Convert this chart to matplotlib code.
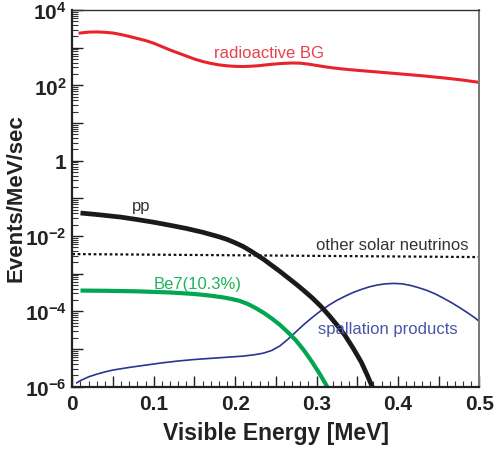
import numpy as np
import matplotlib
matplotlib.use("Agg")
import matplotlib.pyplot as plt
from matplotlib.ticker import FixedLocator, MultipleLocator, LogLocator, NullFormatter

plt.rcParams['font.family'] = ['Liberation Sans', 'DejaVu Sans']
plt.rcParams['mathtext.fontset'] = 'custom'
plt.rcParams['mathtext.rm'] = 'Liberation Sans'
plt.rcParams['mathtext.bf'] = 'Liberation Sans:bold'

# Spectra: visible energy [MeV] and log10(events/MeV/sec)
radio_e = [0.0095, 0.02, 0.03, 0.04, 0.05, 0.06, 0.07, 0.08, 0.09, 0.10, 0.11, 0.12,
           0.13, 0.14, 0.15, 0.16, 0.17, 0.18, 0.19, 0.20, 0.21, 0.22, 0.23, 0.24,
           0.25, 0.26, 0.27, 0.28, 0.29, 0.30, 0.31, 0.32, 0.33, 0.35, 0.37, 0.40,
           0.43, 0.46, 0.48, 0.50]
radio_log = [3.39, 3.415, 3.42, 3.41, 3.39, 3.35, 3.30, 3.245, 3.19, 3.12, 3.03, 2.94,
             2.86, 2.78, 2.70, 2.635, 2.585, 2.545, 2.52, 2.505, 2.50, 2.51, 2.525, 2.55,
             2.57, 2.585, 2.595, 2.59, 2.565, 2.53, 2.495, 2.465, 2.44, 2.40, 2.365, 2.31,
             2.255, 2.19, 2.14, 2.08]

pp_e = [0.01, 0.03, 0.06, 0.08, 0.10, 0.12, 0.14, 0.16, 0.18, 0.19, 0.20, 0.21, 0.22,
        0.2265, 0.235, 0.245, 0.255, 0.265, 0.275, 0.285, 0.295, 0.305, 0.315, 0.325,
        0.335, 0.345, 0.355, 0.362, 0.368, 0.370]
pp_log = [-1.39, -1.43, -1.50, -1.565, -1.635, -1.715, -1.80, -1.90, -2.02, -2.09, -2.18,
          -2.28, -2.41, -2.50, -2.62, -2.78, -2.94, -3.11, -3.28, -3.46, -3.65, -3.86,
          -4.10, -4.36, -4.64, -4.98, -5.35, -5.68, -5.98, -6.08]

be7_e = [0.01, 0.04, 0.08, 0.12, 0.15, 0.17, 0.185, 0.195, 0.205, 0.215, 0.225, 0.235,
         0.245, 0.255, 0.265, 0.275, 0.285, 0.295, 0.305, 0.3125, 0.3145]
be7_log = [-3.45, -3.455, -3.47, -3.50, -3.54, -3.585, -3.63, -3.67, -3.72, -3.80, -3.91,
           -4.04, -4.19, -4.36, -4.56, -4.78, -5.05, -5.36, -5.70, -5.98, -6.07]

spall_e = [0.0054, 0.01, 0.015, 0.02, 0.03, 0.04, 0.05, 0.07, 0.09, 0.11, 0.13, 0.15,
           0.17, 0.19, 0.21, 0.225, 0.235, 0.245, 0.255, 0.265, 0.275, 0.285, 0.295,
           0.305, 0.315, 0.325, 0.335, 0.345, 0.355, 0.365, 0.375, 0.385, 0.395, 0.405,
           0.415, 0.425, 0.435, 0.445, 0.455, 0.465, 0.475, 0.485, 0.495, 0.5]
spall_log = [-5.90, -5.84, -5.79, -5.74, -5.67, -5.61, -5.56, -5.49, -5.43, -5.37, -5.32,
             -5.28, -5.25, -5.22, -5.19, -5.15, -5.11, -5.04, -4.92, -4.74, -4.54, -4.34,
             -4.16, -3.99, -3.84, -3.71, -3.60, -3.50, -3.42, -3.35, -3.30, -3.27, -3.26,
             -3.27, -3.31, -3.37, -3.44, -3.53, -3.64, -3.76, -3.89, -4.03, -4.18, -4.27]

solar_e = [0.0, 0.5]
solar_log = [-2.48, -2.56]

y_tick_exps = [4, 2, 0, -2, -4, -6]
x_tick_vals = [0, 0.1, 0.2, 0.3, 0.4, 0.5]
x_tick_labels = ['0', '0.1', '0.2', '0.3', '0.4', '0.5']


def rate(v):
    return np.power(10.0, np.asarray(v))


fig = plt.figure(figsize=(4.99, 4.56), dpi=100)
ax = fig.add_axes([0.145, 0.150, 0.8155, 0.8257])

ax.plot(radio_e, rate(radio_log), color='#e8232b', lw=2.2)
ax.plot(solar_e, rate(solar_log), color='#111111', lw=1.6, linestyle=(0, (1.2, 1.2)))
ax.plot(spall_e, rate(spall_log), color='#2a3590', lw=1.2)
ax.plot(be7_e, rate(be7_log), color='#00a651', lw=3.0, solid_capstyle='butt')
ax.plot(pp_e, rate(pp_log), color='#1a1a1a', lw=3.4, solid_capstyle='butt')

ax.set_yscale('log')
ax.set_xlim(0, 0.5)
ax.set_ylim(1e-6, 1e4)

lab_kw = dict(fontsize=12, va='center', ha='left')
ax.text(0.174, 10**2.88, 'radioactive BG', color='#e8404a', **lab_kw)
ax.text(0.073, 10**-1.18, 'pp', color='#333333', **lab_kw)
ax.text(0.299, 10**-2.23, 'other solar neutrinos', color='#333333', **lab_kw)
ax.text(0.0995, 10**-3.25, 'Be7(10.3%)', color='#1db35a', **lab_kw)
ax.text(0.302, 10**-4.47, 'spallation products', color='#4a54a8', **lab_kw)

# y ticks: major every decade, labels every two decades
ax.yaxis.set_major_locator(FixedLocator([10.0**k for k in range(-6, 5)]))
ax.yaxis.set_minor_locator(LogLocator(base=10, subs=np.arange(2, 10), numticks=20))
ax.yaxis.set_minor_formatter(NullFormatter())
ylabels = []
for k in range(-6, 5):
    if k in y_tick_exps:
        ylabels.append('1' if k == 0 else r'$\mathbf{10^{%d}}$' % k)
    else:
        ylabels.append('')
ax.set_yticklabels(ylabels)

ax.xaxis.set_major_locator(FixedLocator([i * 0.05 for i in range(11)]))
ax.xaxis.set_minor_locator(MultipleLocator(0.01))
xlabels = []
for i in range(11):
    v = round(i * 0.05, 2)
    xlabels.append(x_tick_labels[x_tick_vals.index(v)] if v in x_tick_vals else '')
ax.set_xticklabels(xlabels)

ax.tick_params(axis='both', which='major', direction='in', length=8, width=1.0,
               color='#222222', labelsize=15, labelcolor='#222222', top=False, right=False)
ax.tick_params(axis='both', which='minor', direction='in', length=4.5, width=0.8,
               color='#333333', top=False, right=False)
ax.tick_params(axis='x', which='major', pad=5)
ax.tick_params(axis='y', which='major', pad=4)
for lab in ax.get_xticklabels() + ax.get_yticklabels():
    lab.set_fontweight('bold')

ax.spines['left'].set_linewidth(1.6)
ax.spines['bottom'].set_linewidth(1.6)
ax.spines['left'].set_color('#222222')
ax.spines['bottom'].set_color('#222222')
ax.spines['top'].set_linewidth(1.0)
ax.spines['top'].set_color('#333333')
ax.spines['right'].set_linewidth(1.4)
ax.spines['right'].set_color('#777777')

ax.set_xlabel('Visible Energy [MeV]', fontsize=16.5, fontweight='bold', color='#222222', labelpad=6)
ax.set_ylabel('Events/MeV/sec', fontsize=16, fontweight='bold', color='#222222')
ax.yaxis.set_label_coords(-0.112, 0.502)

fig.savefig('out.png', dpi=100)
